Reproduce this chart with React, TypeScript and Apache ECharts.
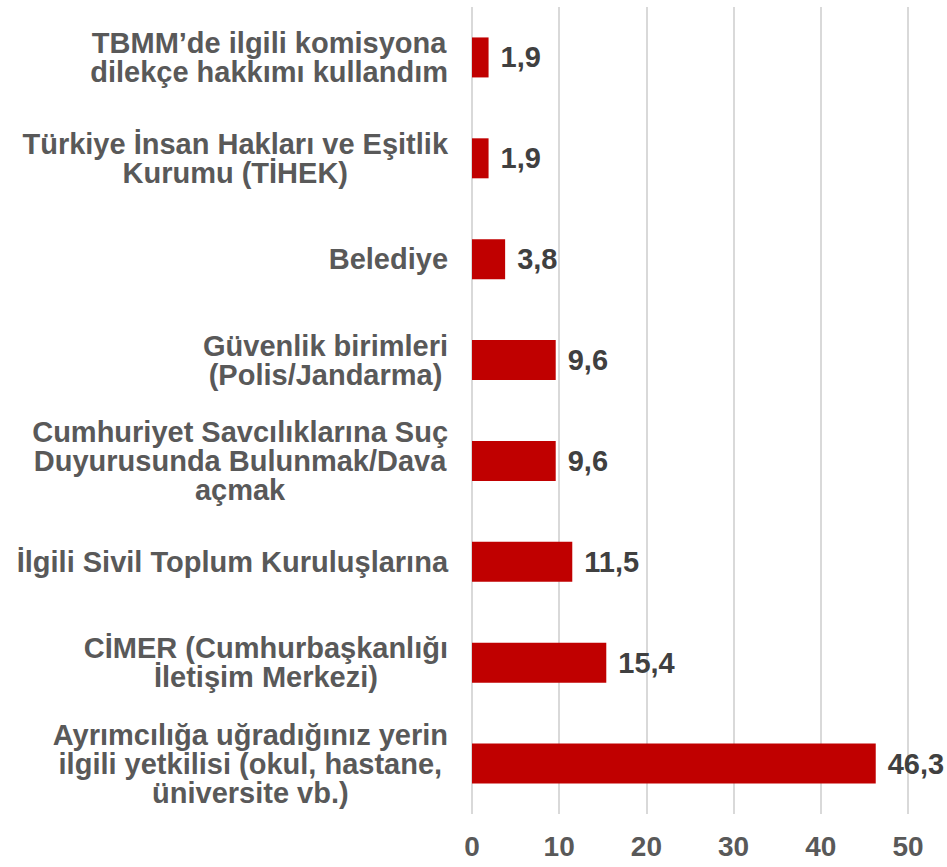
import React, { useEffect, useRef } from "react";
import * as echarts from "echarts";

const categories: string[] = [
  "TBMM’de ilgili komisyona\ndilekçe hakkımı kullandım",
  "Türkiye İnsan Hakları ve Eşitlik\nKurumu (TİHEK)",
  "Belediye",
  "Güvenlik birimleri\n(Polis/Jandarma)",
  "Cumhuriyet Savcılıklarına Suç\nDuyurusunda Bulunmak/Dava\naçmak",
  "İlgili Sivil Toplum Kuruluşlarına",
  "CİMER (Cumhurbaşkanlığı\nİletişim Merkezi)",
  "Ayrımcılığa uğradığınız yerin\nilgili yetkilisi (okul, hastane,\nüniversite vb.)",
];

const values: number[] = [1.9, 1.9, 3.8, 9.6, 9.6, 11.5, 15.4, 46.3];

const xTicks = { min: 0, max: 50, interval: 10 };

const FONT = "'Liberation Sans', Arial, Helvetica, sans-serif";

export default function App() {
  const ref = useRef<HTMLDivElement>(null);
  useEffect(() => {
    if (!ref.current) return;
    const chart = echarts.init(ref.current, undefined, { renderer: "svg" });
    chart.setOption({
      animation: false,
      backgroundColor: "#ffffff",
      grid: { left: 472, right: 39, top: 7, bottom: 53, containLabel: false },
      xAxis: {
        type: "value",
        min: xTicks.min,
        max: xTicks.max,
        interval: xTicks.interval,
        axisLine: { show: false },
        axisTick: { show: false },
        splitLine: { show: true, lineStyle: { color: "#d9d9d9", width: 2 } },
        axisLabel: {
          margin: 18,
          color: "#595959",
          fontFamily: FONT,
          fontWeight: "bold",
          fontSize: 28,
        },
      },
      yAxis: {
        type: "category",
        inverse: true,
        data: categories,
        axisLine: { show: false },
        axisTick: { show: false },
        axisLabel: {
          margin: 24,
          align: "right",
          formatter: (v: string) =>
            v
              .split("\n")
              .map((l) => `{c|${l}}`)
              .join("\n"),
          rich: {
            c: {
              align: "center",
              color: "#595959",
              fontFamily: FONT,
              fontWeight: "bold",
              fontSize: 29,
              lineHeight: 29,
            },
          },
        },
      },
      series: [
        {
          type: "bar",
          data: values,
          barWidth: 40,
          itemStyle: { color: "#c00000" },
          label: {
            show: true,
            position: "right",
            distance: 12,
            color: "#404040",
            fontFamily: FONT,
            fontWeight: "bold",
            fontSize: 29,
            formatter: (p: any) => String(p.value).replace(".", ","),
          },
        },
      ],
    });
    return () => chart.dispose();
  }, []);
  return (
    <div
      ref={ref}
      style={{ position: "fixed", left: 0, top: 0, width: 947, height: 867 }}
    />
  );
}
